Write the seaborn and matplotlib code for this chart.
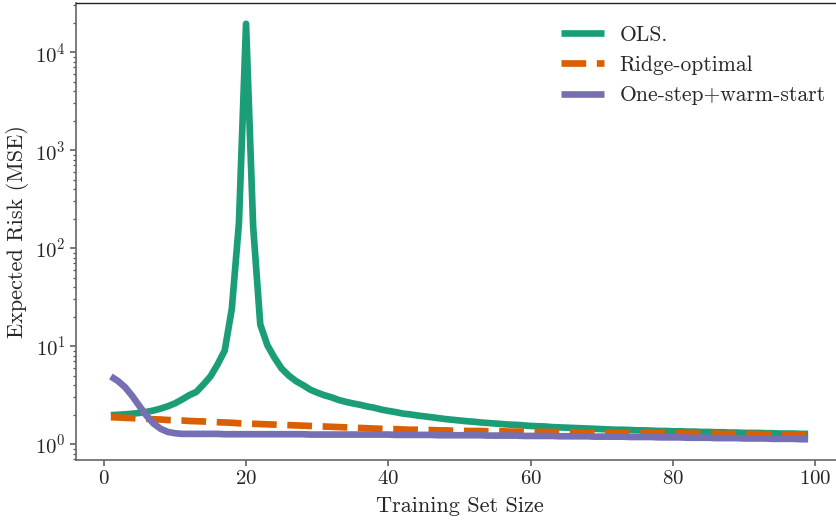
import numpy as np
import pandas as pd
import matplotlib
matplotlib.use("Agg")
import matplotlib.pyplot as plt
import seaborn as sns

# ---------------- data ----------------
train_size = list(range(1, 100))

ols = [1.97, 1.99, 2.01, 2.04, 2.08, 2.13, 2.20, 2.30, 2.43, 2.60,
       2.85, 3.15, 3.40, 4.05, 4.90, 6.50, 9.00, 24.0, 180, 19500,
       165, 16.6, 10.2, 7.6, 5.9, 5.0, 4.4, 4.0, 3.6, 3.35,
       3.15, 3.0, 2.82, 2.70, 2.60, 2.52, 2.42, 2.35, 2.25, 2.18,
       2.12, 2.05, 2.01, 1.96, 1.92, 1.88, 1.84, 1.80, 1.77, 1.74,
       1.71, 1.69, 1.66, 1.64, 1.62, 1.60, 1.58, 1.57, 1.55, 1.53,
       1.52, 1.51, 1.49, 1.48, 1.47, 1.46, 1.45, 1.44, 1.43, 1.42,
       1.41, 1.40, 1.40, 1.39, 1.38, 1.38, 1.37, 1.36, 1.36, 1.35,
       1.35, 1.34, 1.34, 1.33, 1.33, 1.32, 1.32, 1.31, 1.31, 1.30,
       1.30, 1.30, 1.29, 1.29, 1.28, 1.28, 1.28, 1.27, 1.27]

ridge = [1.88, 1.87, 1.85, 1.84, 1.82, 1.81, 1.79, 1.78, 1.76, 1.75,
         1.74, 1.72, 1.71, 1.70, 1.68, 1.67, 1.66, 1.65, 1.63, 1.62,
         1.61, 1.60, 1.59, 1.58, 1.57, 1.56, 1.55, 1.54, 1.53, 1.52,
         1.51, 1.50, 1.49, 1.48, 1.47, 1.46, 1.45, 1.44, 1.43, 1.42,
         1.42, 1.41, 1.40, 1.40, 1.39, 1.39, 1.38, 1.38, 1.37, 1.37,
         1.36, 1.36, 1.36, 1.35, 1.35, 1.35, 1.34, 1.34, 1.34, 1.33,
         1.33, 1.33, 1.33, 1.32, 1.32, 1.32, 1.32, 1.31, 1.31, 1.31,
         1.31, 1.30, 1.30, 1.30, 1.30, 1.30, 1.29, 1.29, 1.29, 1.29,
         1.29, 1.28, 1.28, 1.28, 1.28, 1.28, 1.27, 1.27, 1.27, 1.27,
         1.27, 1.26, 1.26, 1.26, 1.26, 1.25, 1.25, 1.25, 1.24]

onestep = [4.9, 4.4, 3.8, 3.1, 2.45, 1.95, 1.62, 1.43, 1.33, 1.29,
           1.27, 1.27, 1.27, 1.27, 1.27, 1.27, 1.26, 1.26, 1.26, 1.26,
           1.26, 1.26, 1.26, 1.26, 1.26, 1.26, 1.26, 1.26, 1.25, 1.25,
           1.25, 1.25, 1.25, 1.25, 1.25, 1.25, 1.25, 1.25, 1.25, 1.25,
           1.24, 1.24, 1.24, 1.24, 1.24, 1.24, 1.23, 1.23, 1.23, 1.23,
           1.23, 1.23, 1.23, 1.22, 1.22, 1.22, 1.22, 1.22, 1.21, 1.21,
           1.21, 1.21, 1.21, 1.20, 1.20, 1.20, 1.20, 1.20, 1.19, 1.19,
           1.19, 1.19, 1.19, 1.18, 1.18, 1.18, 1.18, 1.17, 1.17, 1.17,
           1.17, 1.16, 1.16, 1.16, 1.16, 1.15, 1.15, 1.15, 1.15, 1.14,
           1.14, 1.14, 1.14, 1.13, 1.13, 1.13, 1.13, 1.12, 1.12]

series_labels = ["OLS.", "Ridge-optimal", "One-step+warm-start"]
series_colors = ["#1b9e77", "#d95f02", "#7570b3"]
x_label = "Training Set Size"
y_label = "Expected Risk (MSE)"

# ---------------- style ----------------
sns.set_theme(style="ticks")
plt.rcParams["font.family"] = ["cmr10", "DejaVu Serif"]
plt.rcParams["mathtext.fontset"] = "cm"
plt.rcParams["axes.formatter.use_mathtext"] = True
plt.rcParams["axes.unicode_minus"] = False

W, H = 836, 521
fig = plt.figure(figsize=(W / 100, H / 100), dpi=100)
ax = fig.add_axes([76 / W, 61 / H, 767 / W, 457 / H])

lw = 4.8
for vals, lab, col, ls in zip([ols, ridge, onestep], series_labels,
                              series_colors, ["-", "--", "-"]):
    sns.lineplot(x=train_size, y=vals, ax=ax, color=col, lw=lw,
                 linestyle=ls, label=lab, solid_capstyle="butt",
                 solid_joinstyle="round")

ax.set_yscale("log")
ax.set_xticks([0, 20, 40, 60, 80, 100])
ax.set_xlabel(x_label, fontsize=16, labelpad=6)
ax.set_ylabel(y_label, fontsize=16, labelpad=4)
ax.tick_params(axis="both", which="major", labelsize=15, length=4,
               width=1.1, color="#555555")
ax.tick_params(axis="y", which="minor", length=2.5, width=0.9,
               color="#555555")

for s in ["left", "bottom"]:
    ax.spines[s].set_color("#666666")
    ax.spines[s].set_linewidth(1.2)
ax.spines["top"].set_color("#222222")
ax.spines["top"].set_linewidth(1.0)
ax.spines["right"].set_visible(False)

leg = ax.legend(loc="upper right", bbox_to_anchor=(1.003, 0.994),
                frameon=False, fontsize=15.5, handlelength=2.0,
                handletextpad=0.75, labelspacing=0.5)

fig.savefig("out.png", dpi=100)
